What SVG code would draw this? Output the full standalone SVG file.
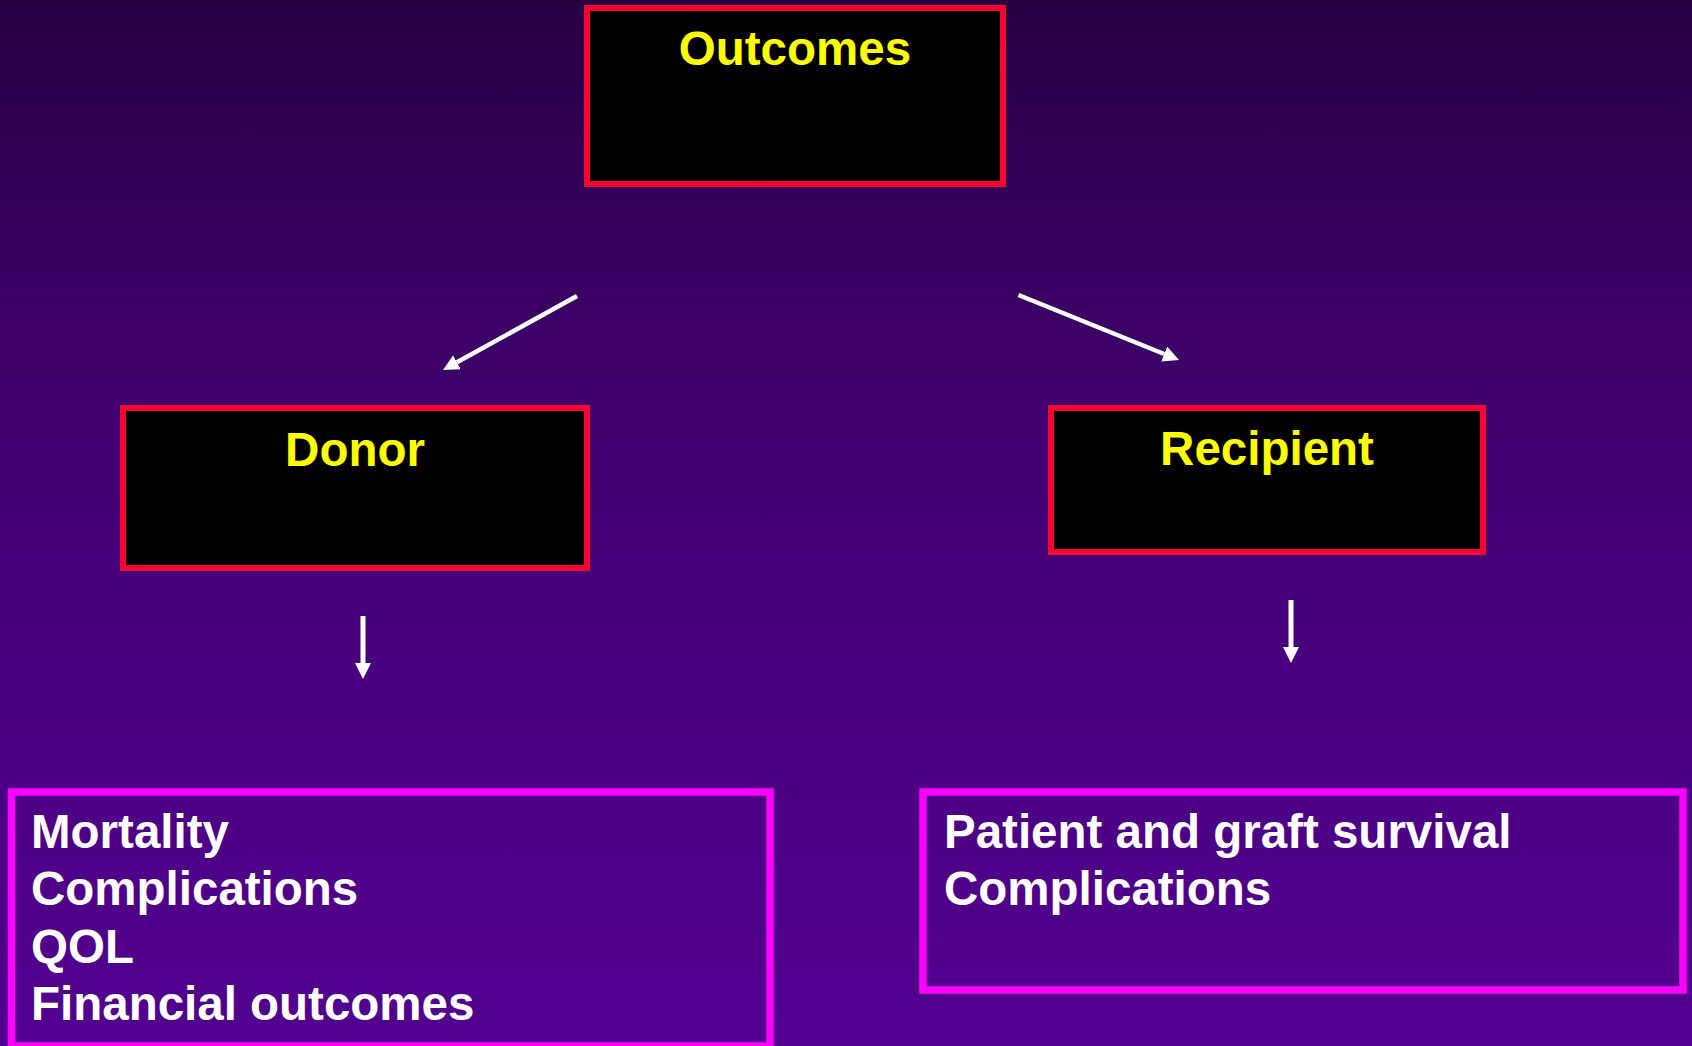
<svg xmlns="http://www.w3.org/2000/svg" width="1692" height="1046" viewBox="0 0 1692 1046">
  <defs>
    <linearGradient id="bg" x1="0" y1="0" x2="0" y2="1">
      <stop offset="0" stop-color="#270042"/>
      <stop offset="0.3" stop-color="#3a0064"/>
      <stop offset="0.55" stop-color="#46007a"/>
      <stop offset="1" stop-color="#52008f"/>
    </linearGradient>
    <marker id="head" viewBox="0 0 16 16" markerUnits="userSpaceOnUse" markerWidth="16" markerHeight="16" refX="0" refY="8" orient="auto">
      <path d="M0,0 L16,8 L0,16 z" fill="#ffffff"/>
    </marker>
  </defs>
  <style>
    .title { fill: #ffff00; font-family: "Liberation Sans", Arial, sans-serif; font-weight: bold; font-size: 47.5px; text-anchor: middle; }
    .item { fill: #ffffff; font-family: "Liberation Sans", Arial, sans-serif; font-weight: bold; font-size: 47.5px; }
    .hdr { fill: #000000; stroke: #ff0033; stroke-width: 6; }
    .list { fill: none; stroke: #ff00ff; stroke-width: 7.5; }
    .conn { stroke: #ffffff; fill: none; marker-end: url(#head); }
  </style>
  <rect x="0" y="0" width="1692" height="1046" fill="url(#bg)"/>

  <g id="outcomes">
    <rect class="hdr" x="587" y="8" width="416" height="176"/>
    <text class="title" x="795" y="65">Outcomes</text>
  </g>

  <g id="donor">
    <rect class="hdr" x="123" y="408" width="464" height="160"/>
    <text class="title" x="355" y="466">Donor</text>
  </g>

  <g id="recipient">
    <rect class="hdr" x="1051" y="408" width="432" height="144"/>
    <text class="title" x="1267" y="465">Recipient</text>
  </g>

  <g id="donor-outcomes">
    <rect class="list" x="11.5" y="792" width="758.5" height="254"/>
    <text class="item" x="31" y="848">Mortality</text>
    <text class="item" x="31" y="905">Complications</text>
    <text class="item" x="31" y="962.5">QOL</text>
    <text class="item" x="31" y="1020">Financial outcomes</text>
  </g>

  <g id="recipient-outcomes">
    <rect class="list" x="923" y="792" width="760" height="198"/>
    <text class="item" x="944" y="848">Patient and graft survival</text>
    <text class="item" x="944" y="905">Complications</text>
  </g>

  <g id="connectors">
    <line class="conn" stroke-width="4.5" x1="577" y1="296" x2="457" y2="362.3"/>
    <line class="conn" stroke-width="4.5" x1="1018.5" y1="295" x2="1164.2" y2="354"/>
    <line class="conn" stroke-width="5" x1="363" y1="616" x2="363" y2="663"/>
    <line class="conn" stroke-width="5" x1="1291" y1="600" x2="1291" y2="647"/>
  </g>
</svg>
